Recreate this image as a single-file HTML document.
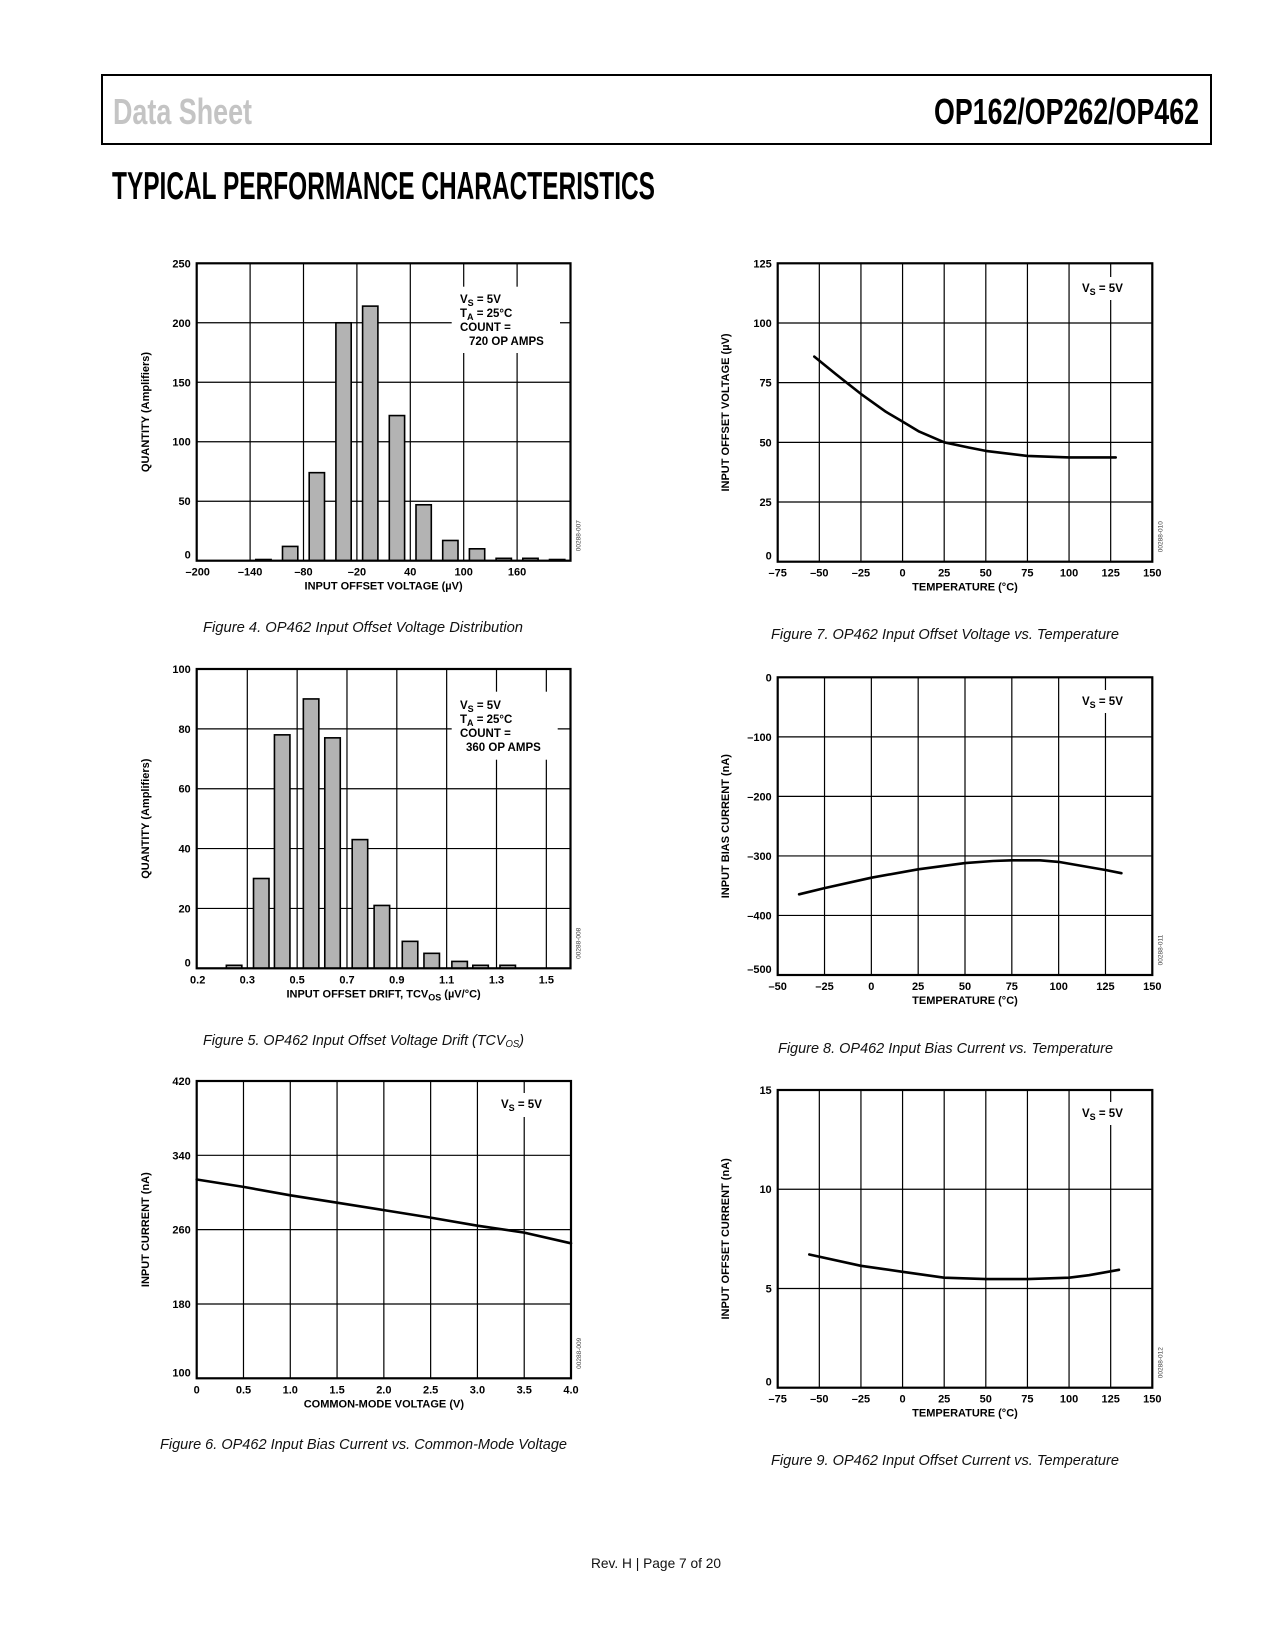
<!DOCTYPE html>
<html><head><meta charset="utf-8"><title>OP162/OP262/OP462 Typical Performance Characteristics</title>
<style>
html,body{margin:0;padding:0;background:#fff;}
svg{display:block;}
text{font-family:"Liberation Sans",sans-serif;}
.tk{font-size:11px;font-weight:bold;fill:#000;}
.ax{font-size:11px;font-weight:bold;fill:#000;}
.lg{font-size:11.5px;font-weight:bold;fill:#000;}
.cap{font-size:15px;font-style:italic;fill:#111;}
.code{font-size:6.5px;fill:#444;}
</style></head>
<body>
<svg id="page" width="1275" height="1650" viewBox="0 0 1275 1650" xmlns="http://www.w3.org/2000/svg">
<rect x="0" y="0" width="1275" height="1650" fill="#fff"/>
<rect x="102" y="75" width="1109" height="69" fill="none" stroke="#000" stroke-width="2"/>
<text x="113" y="124" font-size="36" font-weight="bold" fill="#c4c4c4" textLength="139" lengthAdjust="spacingAndGlyphs">Data Sheet</text>
<text x="934" y="124" font-size="36" font-weight="bold" fill="#000" textLength="265" lengthAdjust="spacingAndGlyphs">OP162/OP262/OP462</text>
<text x="112" y="199" font-size="39" font-weight="bold" fill="#000" textLength="543" lengthAdjust="spacingAndGlyphs">TYPICAL PERFORMANCE CHARACTERISTICS</text>

<text class="cap" x="203" y="632" textLength="320" lengthAdjust="spacingAndGlyphs">Figure 4. OP462 Input Offset Voltage Distribution</text>
<text class="cap" x="203" y="1045" textLength="321" lengthAdjust="spacingAndGlyphs">Figure 5. OP462 Input Offset Voltage Drift (TCV<tspan font-size="10" dy="2">OS</tspan><tspan dy="-2">)</tspan></text>
<text class="cap" x="160" y="1449" textLength="407" lengthAdjust="spacingAndGlyphs">Figure 6. OP462 Input Bias Current vs. Common-Mode Voltage</text>
<text class="cap" x="771" y="639" textLength="348" lengthAdjust="spacingAndGlyphs">Figure 7. OP462 Input Offset Voltage vs. Temperature</text>
<text class="cap" x="778" y="1053" textLength="335" lengthAdjust="spacingAndGlyphs">Figure 8. OP462 Input Bias Current vs. Temperature</text>
<text class="cap" x="771" y="1465" textLength="348" lengthAdjust="spacingAndGlyphs">Figure 9. OP462 Input Offset Current vs. Temperature</text>
<text x="591" y="1568" font-size="14" fill="#111" textLength="130" lengthAdjust="spacingAndGlyphs">Rev. H | Page 7 of 20</text>
<g id="charts"></g>
</svg>
<script>
// ---- Figure 4 data ----
const f4Centers = [-125,-95,-65,-35,-5,25,55,85,115,145,175,205];
const f4Counts  = [1,12,74,200,214,122,47,17,10,2,2,1];
const f4XTicks  = [-200,-140,-80,-20,40,100,160];
const f4XLabels = ["\u2013200","\u2013140","\u201380","\u201320","40","100","160"];
const f4YTicks  = [0,50,100,150,200,250];
// ---- Figure 5 data ----
const f5Centers = [0.247,0.356,0.44,0.556,0.642,0.752,0.84,0.953,1.04,1.152,1.236,1.345];
const f5Counts  = [1,30,78,90,77,43,21,9,5,2.3,1,1];
const f5XTicks  = [0.3,0.5,0.7,0.9,1.1,1.3,1.5];
const f5XLabels = ["0.3","0.5","0.7","0.9","1.1","1.3","1.5"];
const f5YTicks  = [0,20,40,60,80,100];
// ---- Figure 6 data ----
const f6X = [0,0.5,1.0,1.5,2.0,2.5,3.0,3.5,4.0];
const f6Y = [314,306,297,289,281,273,264.3,256.8,245.3];
const f6XTicks = [0,0.5,1.0,1.5,2.0,2.5,3.0,3.5,4.0];
const f6XLabels = ["0","0.5","1.0","1.5","2.0","2.5","3.0","3.5","4.0"];
const f6YTicks = [100,180,260,340,420];
// ---- Figure 7 data ----
const f7X = [-53,-40,-25,-10,0,10,25,40,50,75,100,128];
const f7Y = [85.9,78.5,70.3,62.8,58.7,54.5,50,47.8,46.4,44.3,43.7,43.7];
const tempTicks75 = [-75,-50,-25,0,25,50,75,100,125,150];
const tempLabels75 = ["\u201375","\u201350","\u201325","0","25","50","75","100","125","150"];
const f7YTicks = [0,25,50,75,100,125];
// ---- Figure 8 data ----
const f8X = [-38.6,-25,0,25,50,65,75,90,100,125,133.5];
const f8Y = [-364.5,-354,-336.5,-322.5,-312,-308.5,-307.4,-307.4,-310,-323.6,-329];
const f8XTicks = [-50,-25,0,25,50,75,100,125,150];
const f8XLabels = ["\u201350","\u201325","0","25","50","75","100","125","150"];
const f8YTicks = [-500,-400,-300,-200,-100,0];
const f8YLabels = ["\u2013500","\u2013400","\u2013300","\u2013200","\u2013100","0"];
// ---- Figure 9 data ----
const f9X = [-56,-25,0,25,50,75,100,112,130];
const f9Y = [6.71,6.14,5.84,5.54,5.47,5.47,5.54,5.67,5.94];
const f9YTicks = [0,5,10,15];

const NS = "http://www.w3.org/2000/svg";
const root = document.getElementById('charts');
function mk(tag, attrs, parent, txt){
  const e = document.createElementNS(NS, tag);
  for (const k in attrs) e.setAttribute(k, attrs[k]);
  if (txt !== undefined) e.textContent = txt;
  (parent||root).appendChild(e);
  return e;
}
function lin(d0,d1,r0,r1){ return v => r0 + (v-d0)/(d1-d0)*(r1-r0); }

function frame(g, c, xs, ys, xTicks, xLabels, yTicks, yLabels, xTitle, yTitle, code, xExtra){
  xTicks.forEach(t=>{ const x=xs(t);
    const l=mk('line',{x1:x,x2:x,y1:c.T,y2:c.B,stroke:'#000','stroke-width':1.2},g);
    
    
  });
  yTicks.forEach(t=>{ const y=ys(t);
    const l=mk('line',{x1:c.L,x2:c.R,y1:y,y2:y,stroke:'#000','stroke-width':1.2},g);
    
    
  });
  xTicks.forEach((t,i)=>{
    const tx=mk('text',{x:xs(t),y:c.B+15,'text-anchor':'middle',class:'tk'},g,xLabels[i]);
    
    
  });
  if (xExtra){
    const tx=mk('text',{x:c.L+1,y:c.B+15,'text-anchor':'middle',class:'tk'},g,xExtra);
    
    
  }
  yTicks.forEach((t,i)=>{
    const tx=mk('text',{x:c.L-6,y:ys(t)+(i==0?-2:4),'text-anchor':'end',class:'tk'},g,yLabels[i]);
    
    
  });
  const xt=mk('text',{x:(c.L+c.R)/2,y:c.B+29,'text-anchor':'middle',class:'ax'},g);
  
  
  xTitle(xt);
  const cy=(c.T+c.B)/2;
  const yt=mk('text',{x:c.yx,y:cy,'text-anchor':'middle',class:'ax',transform:`rotate(-90 ${c.yx} ${cy})`},g);
  
  
  yTitle(yt);
  const cd=mk('text',{x:c.R+10,y:c.B-25,'text-anchor':'middle',class:'code',transform:`rotate(-90 ${c.R+10} ${c.B-25})`},g,code);
  
  
}
function border(g,c){
  const b=mk('rect',{x:c.L,y:c.T,width:c.R-c.L,height:c.B-c.T,fill:'none',stroke:'#000','stroke-width':2.2},g);
  
  
}
function legend(g, box, lines){
  const r=mk('rect',{x:box[0],y:box[1],width:box[2],height:box[3],fill:'#fff'},g);
  
  
  lines.forEach(l=>{
    const t=mk('text',{x:l[0],y:l[1],class:'lg'},g);
    
    
    l[2](t);
  });
}
function sub(t, main, s, rest){
  t.appendChild(document.createTextNode(main));
  const ts=document.createElementNS(NS,'tspan'); ts.setAttribute('font-size','9'); ts.setAttribute('dy','3'); ts.textContent=s; t.appendChild(ts);
  const r=document.createElementNS(NS,'tspan'); r.setAttribute('dy','-3'); r.textContent=rest; t.appendChild(r);
}
function txt(s){ return t=>{ t.textContent=s; }; }
function curve(g, xs, ys, X, Y){
  const d = X.map((v,i)=>(i?'L':'M')+xs(v).toFixed(1)+' '+ys(Y[i]).toFixed(1)).join(' ');
  const p=mk('path',{d:d,fill:'none',stroke:'#000','stroke-width':2.6,'stroke-linejoin':'round','stroke-linecap':'round'},g);
  
  
}
function bars(g, xs, ys, C, V, w){
  C.forEach((c,i)=>{
    const x=xs(c), y=ys(V[i]), y0=ys(0);
    const b=mk('rect',{x:x-w/2,y:y,width:w,height:Math.max(y0-y,0.5),fill:'#b3b3b3',stroke:'#000','stroke-width':1.6},g);
    
    
  });
}

// Figure 4
(function(){
  const c={L:196.7,R:570.5,T:263.3,B:560.7,yx:149};
  const g=mk('g',{});  
  const xs=lin(-200,220,c.L,c.R), ys=lin(0,250,c.B,c.T);
  frame(g,c,xs,ys,f4XTicks.slice(1),f4XLabels.slice(1),f4YTicks,f4YTicks.map(String),
    t=>{t.textContent='INPUT OFFSET VOLTAGE (\u00B5V)';}, txt('QUANTITY (Amplifiers)'),'00288-007','\u2013200');
  legend(g,[451.7,286.7,108.3,66.3],[
    [460,303,t=>sub(t,'V','S',' = 5V')],[460,317,t=>sub(t,'T','A',' = 25\u00B0C')],
    [460,331,txt('COUNT =')],[469,345,txt('720 OP AMPS')]]);
  bars(g,xs,ys,f4Centers,f4Counts,15.3);
  border(g,c);
})();
// Figure 5
(function(){
  const c={L:196.7,R:570.5,T:669,B:968.3,yx:149};
  const g=mk('g',{});  
  const xs=v=>247.3+(v-0.3)*249.2, ys=lin(0,100,c.B,c.T);
  frame(g,c,xs,ys,f5XTicks,f5XLabels,f5YTicks,f5YTicks.map(String),
    t=>sub(t,'INPUT OFFSET DRIFT, TCV','OS',' (\u00B5V/\u00B0C)'), txt('QUANTITY (Amplifiers)'),'00288-008','0.2');
  legend(g,[451.7,691.7,106,68],[
    [460,709,t=>sub(t,'V','S',' = 5V')],[460,723,t=>sub(t,'T','A',' = 25\u00B0C')],
    [460,737,txt('COUNT =')],[466,751,txt('360 OP AMPS')]]);
  bars(g,xs,ys,f5Centers,f5Counts,15.5);
  border(g,c);
})();
// Figure 6
(function(){
  const c={L:196.7,R:571,T:1081,B:1378.3,yx:149};
  const g=mk('g',{});  
  const xs=lin(0,4,c.L,c.R), ys=lin(100,420,c.B,c.T);
  frame(g,c,xs,ys,f6XTicks,f6XLabels,f6YTicks,f6YTicks.map(String),
    txt('COMMON-MODE VOLTAGE (V)'), txt('INPUT CURRENT (nA)'),'00288-009');
  legend(g,[495,1093,57,24],[[501,1108,t=>sub(t,'V','S',' = 5V')]]);
  curve(g,xs,ys,f6X,f6Y);
  border(g,c);
})();
// Figure 7
(function(){
  const c={L:777.7,R:1152.3,T:263.3,B:561.7,yx:729};
  const g=mk('g',{});  
  const xs=lin(-75,150,c.L,c.R), ys=lin(0,125,c.B,c.T);
  frame(g,c,xs,ys,tempTicks75,tempLabels75,f7YTicks,f7YTicks.map(String),
    txt('TEMPERATURE (\u00B0C)'), txt('INPUT OFFSET VOLTAGE (\u00B5V)'),'00288-010');
  legend(g,[1077,277,54,23],[[1082,292,t=>sub(t,'V','S',' = 5V')]]);
  curve(g,xs,ys,f7X,f7Y);
  border(g,c);
})();
// Figure 8
(function(){
  const c={L:777.7,R:1152.3,T:677.3,B:975,yx:729};
  const g=mk('g',{});  
  const xs=lin(-50,150,c.L,c.R), ys=lin(-500,0,c.B,c.T);
  frame(g,c,xs,ys,f8XTicks,f8XLabels,f8YTicks,f8YLabels,
    txt('TEMPERATURE (\u00B0C)'), txt('INPUT BIAS CURRENT (nA)'),'00288-011');
  legend(g,[1077,690,54,23],[[1082,705,t=>sub(t,'V','S',' = 5V')]]);
  curve(g,xs,ys,f8X,f8Y);
  border(g,c);
})();
// Figure 9
(function(){
  const c={L:777.7,R:1152.3,T:1090,B:1387.7,yx:729};
  const g=mk('g',{});  
  const xs=lin(-75,150,c.L,c.R), ys=lin(0,15,c.B,c.T);
  frame(g,c,xs,ys,tempTicks75,tempLabels75,f9YTicks,f9YTicks.map(String),
    txt('TEMPERATURE (\u00B0C)'), txt('INPUT OFFSET CURRENT (nA)'),'00288-012');
  legend(g,[1077,1102,54,23],[[1082,1117,t=>sub(t,'V','S',' = 5V')]]);
  curve(g,xs,ys,f9X,f9Y);
  border(g,c);
})();
</script>
</body></html>
